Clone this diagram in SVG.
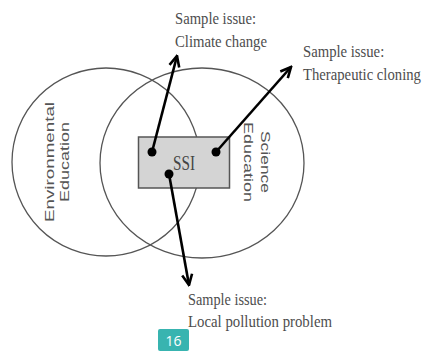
<svg xmlns="http://www.w3.org/2000/svg" width="424" height="351" viewBox="0 0 424 351">
<style>
.circ{fill:none;stroke:#555;stroke-width:1.3}
.lbl{font-family:"Liberation Serif",serif;font-size:17.5px;fill:#4d4d4d}
.rot{font-family:"Liberation Sans",Arial,sans-serif;font-size:13.5px;fill:#555}
.arr{fill:none;stroke:#000;stroke-width:2.6;marker-end:url(#ah)}
.dot{fill:#000}
</style>
<defs>
<marker id="ah" viewBox="0 0 13 13" refX="11.5" refY="6.5" markerWidth="13" markerHeight="13" orient="auto" markerUnits="userSpaceOnUse">
<path d="M1,1.5 L11.5,6.5 L1,11.5" fill="none" stroke="#000" stroke-width="2.6" stroke-linejoin="miter"/>
</marker>
</defs>
<rect width="424" height="351" fill="#fff"/>
<g id="env">
<ellipse class="circ" cx="106" cy="162" rx="94" ry="94"/>
<text class="rot" transform="translate(54,162) rotate(-90)" text-anchor="middle" textLength="120" lengthAdjust="spacingAndGlyphs">Environmental</text>
<text class="rot" transform="translate(69,162) rotate(-90)" text-anchor="middle" textLength="80" lengthAdjust="spacingAndGlyphs">Education</text>
</g>
<g id="sci">
<ellipse class="circ" cx="202" cy="163" rx="102" ry="95"/>
<text class="rot" transform="translate(261,162) rotate(90)" text-anchor="middle" textLength="62" lengthAdjust="spacingAndGlyphs">Science</text>
<text class="rot" transform="translate(244,162) rotate(90)" text-anchor="middle" textLength="80" lengthAdjust="spacingAndGlyphs">Education</text>
</g>
<g id="ssi">
<rect x="138.5" y="137" width="91" height="51" fill="#d4d4d4" stroke="#555" stroke-width="1.5"/>
<text x="173" y="170" font-family="'Liberation Serif',serif" font-size="20" fill="#444" textLength="22" lengthAdjust="spacingAndGlyphs">SSI</text>
</g>
<g id="connectors">
<line class="arr" x1="152" y1="152" x2="177" y2="56"/>
<line class="arr" x1="216" y1="152" x2="291" y2="67"/>
<line class="arr" x1="169" y1="174" x2="189" y2="285"/>
<circle class="dot" cx="152" cy="152" r="4.5"/>
<circle class="dot" cx="216" cy="152" r="4.5"/>
<circle class="dot" cx="169" cy="174" r="4.5"/>
</g>
<g id="issue-climate">
<text class="lbl" x="175" y="24" textLength="81" lengthAdjust="spacingAndGlyphs">Sample issue:</text>
<text class="lbl" x="175" y="47" textLength="92" lengthAdjust="spacingAndGlyphs">Climate change</text>
</g>
<g id="issue-cloning">
<text class="lbl" transform="translate(303,57) scale(0.84,1)">Sample issue:</text>
<text class="lbl" transform="translate(303,80) scale(0.84,1)">Therapeutic cloning</text>
</g>
<g id="issue-pollution">
<text class="lbl" x="188" y="305" textLength="79" lengthAdjust="spacingAndGlyphs">Sample issue:</text>
<text class="lbl" x="188" y="327" textLength="144" lengthAdjust="spacingAndGlyphs">Local pollution problem</text>
</g>
<g id="page">
<rect x="158" y="329" width="31" height="22" rx="2" fill="#38b4b0"/>
<text x="173.5" y="346" text-anchor="middle" font-family="'Open Sans','Noto Sans',sans-serif" font-size="14" fill="#fff">16</text>
</g>
</svg>
